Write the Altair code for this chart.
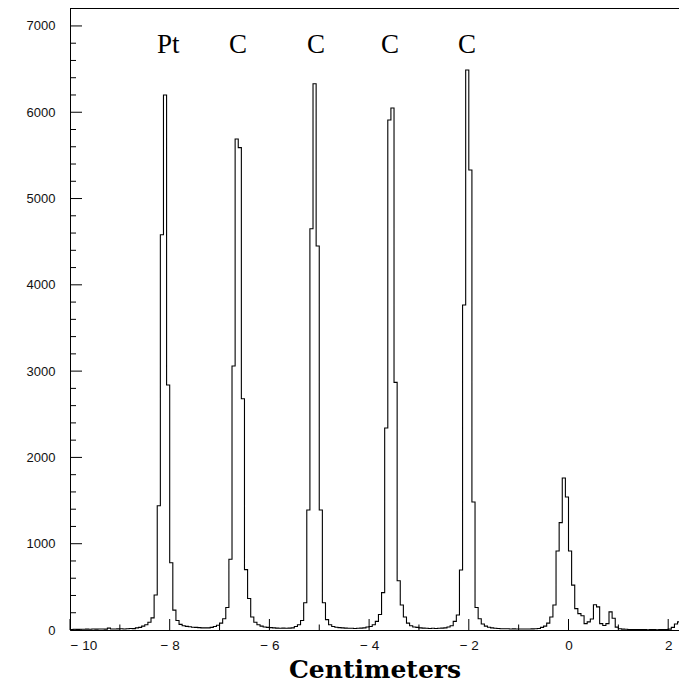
import altair as alt
import pandas as pd

# ---------------- data ----------------
bin_width = 0.0625      # 200 bins from -10 to 2.5
x_start = -10.0

counts = [
    # -10 .. -9
    6, 8, 7, 9, 8, 10, 9, 11, 10, 12, 11, 10, 22, 12, 11, 13,
    # -9 .. -8
    14, 12, 15, 18, 16, 25, 30, 45, 60, 90, 140, 405, 1440, 4580, 6200, 2840,
    # -8 .. -7
    780, 230, 110, 65, 50, 42, 38, 32, 30, 28, 25, 25, 25, 30, 40, 55,
    # -7 .. -6
    80, 130, 260, 820, 3060, 5690, 5590, 2680, 700, 365, 150, 90, 60, 45, 35, 30,
    # -6 .. -5
    28, 25, 22, 20, 22, 20, 22, 25, 40, 60, 110, 315, 1390, 4650, 6330, 4450,
    # -5 .. -4
    1390, 315, 120, 60, 40, 32, 28, 25, 22, 20, 20, 18, 20, 22, 25, 35,
    # -4 .. -3
    40, 60, 100, 180, 433, 2340, 5910, 6050, 2870, 570, 290, 150, 80, 50, 35, 30,
    # -3 .. -2
    25, 22, 20, 18, 20, 18, 20, 22, 25, 35, 50, 100, 174, 695, 3766, 6490,
    # -2 .. -1
    5330, 1483, 260, 130, 70, 45, 32, 25, 20, 18, 15, 14, 15, 12, 13, 12,
    # -1 .. 0
    12, 11, 12, 11, 13, 14, 18, 30, 45, 80, 150, 290, 915, 1244, 1761, 1541,
    # 0 .. 1
    915, 520, 248, 190, 165, 74, 94, 127, 293, 268, 74, 53, 74, 210, 136, 33,
    # 1 .. 2
    15, 10, 8, 6, 5, 5, 4, 5, 4, 3, 5, 4, 3, 4, 5, 6,
    # 2 .. 2.5
    10, 30, 70, 94, 60, 50, 30, 20,
]

x_major = [-10, -8, -6, -4, -2, 0, 2]
x_minor = [-9, -7, -5, -3, -1, 1]
y_major = [0, 1000, 2000, 3000, 4000, 5000, 6000, 7000]
y_minor = [200, 400, 600, 800, 1200, 1400, 1600, 1800, 2200, 2400, 2600, 2800,
           3200, 3400, 3600, 3800, 4200, 4400, 4600, 4800, 5200, 5400, 5600, 5800,
           6200, 6400, 6600, 6800]

peak_text = ["Pt", "C", "C", "C", "C"]
peak_x = [-8.03, -6.63, -5.065, -3.58, -2.036]
peak_y = [6690, 6690, 6690, 6690, 6690]

x_domain = [-10, 2.2166]
y_domain = [0, 7208]

# ---------------- tables ----------------
edges = [x_start + i * bin_width for i in range(len(counts) + 1)]
hist_df = pd.DataFrame({"x": edges, "y": counts + [counts[-1]]})
xmaj_df = pd.DataFrame({"x": x_major})
xmin_df = pd.DataFrame({"x": x_minor})
ymaj_df = pd.DataFrame({"y": y_major})
ymin_df = pd.DataFrame({"y": y_minor})
lab_df = pd.DataFrame({"t": peak_text, "x": peak_x, "y": peak_y})

W, H = 609, 622

xs = alt.Scale(domain=x_domain, nice=False, zero=False)
ys = alt.Scale(domain=y_domain, nice=False, zero=False)

x_label_expr = "datum.value < 0 ? '\u2212 ' + abs(datum.value) : '' + datum.value"

hist = alt.Chart(hist_df).mark_line(
    interpolate="step-after", color="black", strokeWidth=1.1, clip=True
).encode(
    x=alt.X("x:Q", scale=xs, axis=alt.Axis(
        values=x_major, labelExpr=x_label_expr, ticks=False, tickSize=0,
        domain=True, domainColor="black", domainWidth=1, grid=False,
        labelFont="Liberation Sans", labelFontSize=13.5, labelColor="#111",
        labelPadding=8, labelBaseline="top",
        title="Centimeters", titleFont="DejaVu Serif", titleFontSize=25,
        titleFontWeight="bold", titleColor="black", titleY=47.5,
        titleBaseline="alphabetic")),
    y=alt.Y("y:Q", scale=ys, axis=alt.Axis(
        values=y_major, format="d", ticks=False, tickSize=0,
        domain=True, domainColor="black", domainWidth=1, grid=False,
        labelFont="Liberation Sans", labelFontSize=13, labelColor="#111",
        labelPadding=15, title=None)),
)

# top frame line (the right side of the frame lies outside the cropped picture)
top_line = alt.Chart(ymaj_df).mark_rule(color="black", strokeWidth=1).encode(
    x=alt.value(0), x2=alt.value(W), y=alt.value(0.5))

xmaj = alt.Chart(xmaj_df).mark_rule(color="black", strokeWidth=1).encode(
    x=alt.X("x:Q", scale=xs), y=alt.value(H), y2=alt.value(H - 11))
xmin = alt.Chart(xmin_df).mark_rule(color="black", strokeWidth=1).encode(
    x=alt.X("x:Q", scale=xs), y=alt.value(H), y2=alt.value(H - 5.5))
ymaj = alt.Chart(ymaj_df).mark_rule(color="black", strokeWidth=1).encode(
    y=alt.Y("y:Q", scale=ys), x=alt.value(0), x2=alt.value(12))
ymin = alt.Chart(ymin_df).mark_rule(color="black", strokeWidth=1).encode(
    y=alt.Y("y:Q", scale=ys), x=alt.value(0), x2=alt.value(6))

labels = alt.Chart(lab_df).mark_text(
    font="Liberation Serif", fontSize=27, color="black", baseline="alphabetic", align="center"
).encode(x=alt.X("x:Q", scale=xs), y=alt.Y("y:Q", scale=ys), text="t:N")

chart = alt.layer(hist, top_line, xmaj, xmin, ymaj, ymin, labels).properties(
    width=W, height=H,
    padding={"left": 62, "top": 0, "right": 0, "bottom": 54},
    autosize=alt.AutoSizeParams(type="none"),
).configure_view(strokeWidth=0).configure(background="white")

chart.save("out.html", embed_options={"renderer": "svg", "actions": False})
